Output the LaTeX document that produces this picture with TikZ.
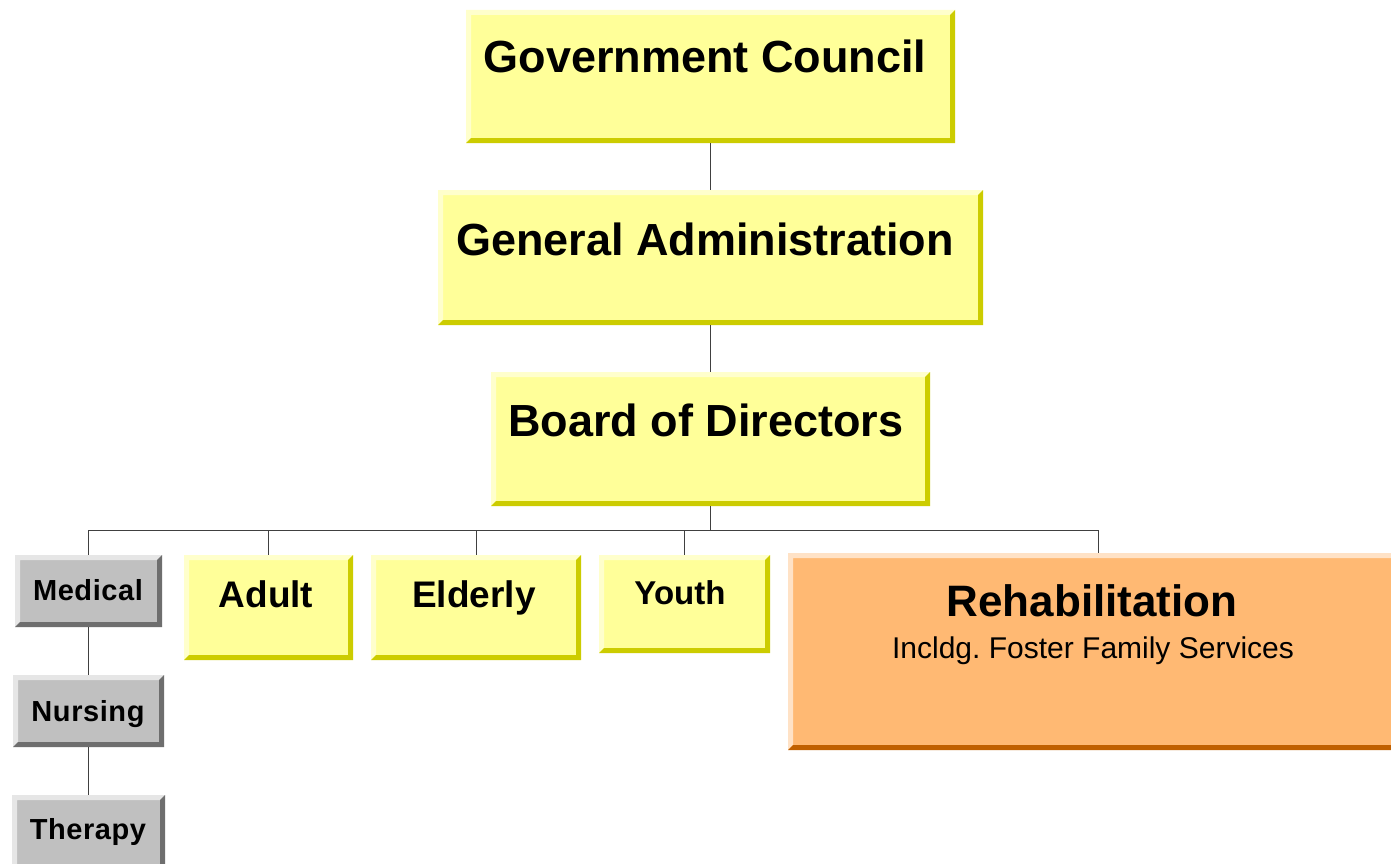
\documentclass[tikz,border=0pt]{standalone}
\usepackage{fontspec}
\setmainfont{Liberation Sans}
\frenchspacing
\definecolor{yF}{HTML}{FFFF99}
\definecolor{yL}{HTML}{FFFFCC}
\definecolor{yD}{HTML}{CCCC00}
\definecolor{gF}{HTML}{C0C0C0}
\definecolor{gL}{HTML}{E6E6E6}
\definecolor{gD}{HTML}{6E6E6E}
\definecolor{oF}{HTML}{FFB973}
\definecolor{oL}{HTML}{FFE2C6}
\definecolor{oD}{HTML}{C06000}
\newcommand\bw{5pt}
% #1 name, #2 x1, #3 y1, #4 x2, #5 y2, #6 colour prefix
\newcommand\bbox[6]{%
  \node[inner sep=0pt, outer sep=0pt, fill=#6F, minimum width={(#4-#2)*1pt}, minimum height={(#5-#3)*1pt}] (#1) at ({(#2+#4)/2},{(#3+#5)/2}) {};
  \fill[#6L] (#1.north west) -- (#1.north east) -- ([xshift=-\bw,yshift=-\bw]#1.north east) -- ([xshift=\bw,yshift=-\bw]#1.north west) -- ([xshift=\bw,yshift=\bw]#1.south west) -- (#1.south west) -- cycle;
  \fill[#6D] (#1.south east) -- (#1.north east) -- ([xshift=-\bw,yshift=-\bw]#1.north east) -- ([xshift=-\bw,yshift=\bw]#1.south east) -- ([xshift=\bw,yshift=\bw]#1.south west) -- (#1.south west) -- cycle;
}
\tikzset{
  conn/.style={draw=black!75, line width=1pt},
  big/.style={anchor=base, inner sep=0pt, font=\bfseries\fontsize{45}{50}\selectfont},
  mid/.style={anchor=base, inner sep=0pt, font=\bfseries\fontsize{37}{42}\selectfont},
  small/.style={anchor=base, inner sep=0pt, font=\bfseries\fontsize{29}{34}\selectfont},
  sub/.style={anchor=base, inner sep=0pt, font=\fontsize{30}{34}\selectfont},
}
\begin{document}
\begin{tikzpicture}[x=1pt,y=-1pt]
\useasboundingbox (0,0) rectangle (1391,864);
\clip (0,0) rectangle (1391,864);
\fill[white] (0,0) rectangle (1391,864);
% boxes
\bbox{gc}{466}{10}{955}{143}{y}
\bbox{ga}{438}{190}{983}{325}{y}
\bbox{bd}{491}{372}{930}{506}{y}
\bbox{med}{15}{555}{162}{627}{g}
\bbox{nur}{13}{675}{164}{747}{g}
\bbox{ther}{12}{795}{165}{880}{g}
\bbox{adult}{184}{555}{353}{660}{y}
\bbox{eld}{371}{555}{581}{660}{y}
\bbox{youth}{599}{555}{770}{653}{y}
\bbox{rehab}{788}{553}{1410}{750}{o}
% branch points
\coordinate (hub) at (710,530);
\coordinate (hl) at (88,530);
\coordinate (hr) at (1098,530);
% connectors
\draw[conn] (gc.south -| hub) -- (ga.north -| hub);
\draw[conn] (ga.south -| hub) -- (bd.north -| hub);
\draw[conn] (bd.south -| hub) -- (hub);
\draw[conn] (hl) -- (hr);
\draw[conn] (hl) -- (med.north -| hl);
\draw[conn] (adult.north |- hub) -- (adult.north);
\draw[conn] (eld.north |- hub) -- (eld.north);
\draw[conn] (youth.north |- hub) -- (youth.north);
\draw[conn] (hr) -- (rehab.north -| hr);
\draw[conn] (med.south -| hl) -- (nur.north -| hl);
\draw[conn] (nur.south -| hl) -- (ther.north -| hl);
% texts
\node[big] (gct) at (705,73) {Government Council};
\node[big] (gat) at (705,255) {General Administration};
\node[big] (bdt) at (706,436) {Board of Directors};
\node[small] (medt) at (88,600) {\addfontfeature{LetterSpace=2}Medical};
\node[small] (nurt) at (88,721) {\addfontfeature{LetterSpace=2}Nursing};
\node[small] (thert) at (88,839) {\addfontfeature{LetterSpace=2}Therapy};
\node[mid] (adultt) at (266,607) {Adult};
\node[mid] (eldt) at (474,607) {Elderly};
\node[small, font=\bfseries\fontsize{33}{38}\selectfont] (youtht) at (680,604) {Youth};
\node[big, font=\bfseries\fontsize{44}{50}\selectfont] (rehabt) at (1092,616) {Rehabilitation};
\node[sub] (rehabs) at (1093,658) {Incldg. Foster Family Services};
\end{tikzpicture}
\end{document}
